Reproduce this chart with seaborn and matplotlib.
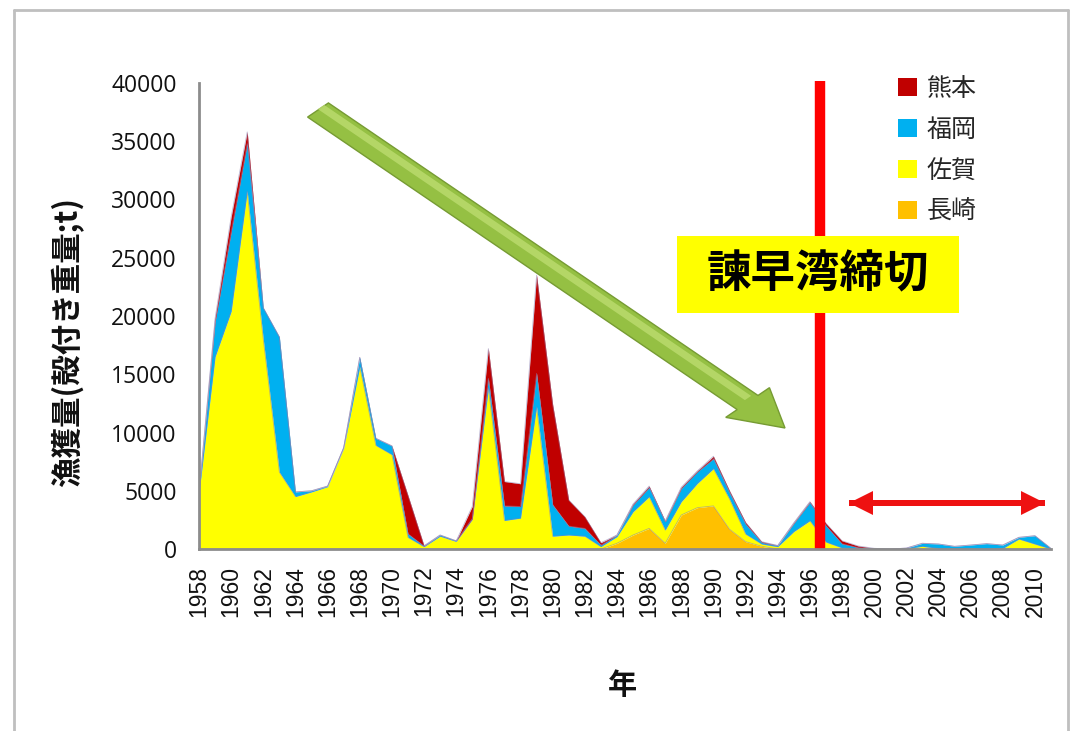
import numpy as np
import pandas as pd
import matplotlib
matplotlib.use("Agg")
import matplotlib.pyplot as plt
from matplotlib.patches import Patch, Rectangle, FancyArrow
from matplotlib.lines import Line2D
import seaborn as sns

# ---- data: annual catch by prefecture (t, shell-on weight) ----
years = list(range(1958, 2012))

nagasaki = [0, 0, 0, 0, 0, 0, 0, 0, 0, 0,
            0, 0, 0, 0, 0, 0, 0, 0, 0, 0,
            0, 0, 0, 0, 0, 0, 490, 1200, 1770, 490,
            2920, 3550, 3700, 1700, 630, 230, 0, 0, 0, 0,
            0, 0, 0, 0, 0, 0, 0, 0, 0, 0,
            0, 0, 0, 0]

saga = [4800, 16500, 20400, 30700, 18000, 6600, 4500, 4900, 5350, 8650,
        15650, 8900, 8100, 1000, 200, 1100, 650, 2550, 13800, 2450,
        2650, 12200, 1100, 1200, 1100, 200, 570, 2000, 2720, 1140,
        1140, 2080, 3200, 2600, 660, 200, 200, 1500, 2430, 600,
        100, 30, 0, 0, 30, 230, 50, 0, 0, 0,
        50, 860, 430, 0]

fukuoka = [100, 3000, 6800, 4100, 2700, 11600, 400, 100, 50, 50,
           800, 600, 750, 300, 50, 100, 50, 50, 850, 1250,
           1000, 2870, 2700, 770, 670, 140, 140, 580, 800, 710,
           1140, 1000, 860, 560, 860, 140, 90, 700, 1570, 1400,
           350, 100, 30, 0, 50, 260, 380, 230, 340, 460,
           290, 140, 710, 50]

kumamoto = [0, 300, 1300, 1000, 0, 0, 0, 0, 0, 0,
            0, 0, 0, 3300, 30, 0, 0, 1050, 2550, 2090,
            1950, 8430, 8600, 2230, 1000, 200, 0, 80, 110, 60,
            100, 70, 200, 140, 140, 60, 10, 50, 60, 200,
            250, 130, 30, 0, 0, 0, 0, 0, 0, 0,
            0, 0, 0, 0]

series_names = ["長崎", "佐賀", "福岡", "熊本"]
series_colors = ["#FFC000", "#FFFF00", "#00B0F0", "#C00000"]
legend_order = ["熊本", "福岡", "佐賀", "長崎"]

y_ticks = [0, 5000, 10000, 15000, 20000, 25000, 30000, 35000, 40000]
x_ticks = list(range(1958, 2011, 2))
closure_year = 1996.65

df = pd.DataFrame({"年": years, "長崎": nagasaki, "佐賀": saga,
                   "福岡": fukuoka, "熊本": kumamoto})

# ---- style ----
sns.set_theme(style="white")
plt.rcParams["font.family"] = ["Noto Sans CJK JP", "DejaVu Sans"]

W, H = 1075, 731
fig = plt.figure(figsize=(W / 100, H / 100), dpi=100)
fig.patch.set_facecolor("white")


def fx(px):
    return px / W


def fy(py):
    return 1 - py / H


ax = fig.add_axes([fx(199), fy(549), fx(1051) - fx(199), fy(83) - fy(549)])
ax.set_facecolor("white")

# stacked areas, bottom to top
base = np.zeros(len(years))
tops = []
for name, col in zip(series_names, series_colors):
    top = base + df[name].to_numpy()
    ax.fill_between(df["年"], base, top, color=col, linewidth=0, zorder=2)
    tops.append(top)
    base = top

# thin outline along each band's upper edge
outline = pd.DataFrame({"年": years * len(series_names),
                        "top": np.concatenate(tops),
                        "series": np.repeat(series_names, len(years))})
sns.lineplot(data=outline, x="年", y="top", units="series", estimator=None,
             color="#8a7fb0", linewidth=0.6, alpha=0.55, ax=ax, zorder=3,
             legend=False)

ax.set_xlim(1958, 2011)
ax.set_ylim(0, 40000)
ax.set_yticks(y_ticks)
ax.set_yticklabels([str(v) for v in y_ticks], fontfamily="Open Sans",
                   fontsize=16.5, color="#111111")
ax.set_xticks(x_ticks)
ax.set_xticklabels([str(v) for v in x_ticks], rotation=90,
                   fontfamily="Liberation Sans", fontsize=16.5, color="#111111")
ax.tick_params(axis="y", length=0, pad=16)
ax.tick_params(axis="x", length=0, pad=12)
ax.set_xlabel("")
ax.set_ylabel("")
for s in ["top", "right"]:
    ax.spines[s].set_visible(False)
for s in ["left", "bottom"]:
    ax.spines[s].set_color("#8c8c8c")
    ax.spines[s].set_linewidth(2)
    ax.spines[s].set_zorder(6)

# dike closure line
ax.axvline(closure_year, ymin=0, ymax=40200 / 40000, color="#FF0000",
           linewidth=7.5, zorder=5, clip_on=False, solid_capstyle="butt")

# axis titles
fig.text(fx(68), fy(342), "漁獲量(殻付き重量;t)", rotation=90, ha="center",
         va="center", fontsize=22, fontweight="bold", color="#111111")
fig.text(fx(622), fy(685), "年", ha="center", va="center", fontsize=21,
         fontweight="bold", color="#111111")

# legend
handles = [Patch(facecolor=series_colors[series_names.index(n)], edgecolor="none")
           for n in legend_order]
fig.legend(handles, legend_order, loc="upper left",
           bbox_to_anchor=(fx(888), fy(66)), frameon=False, fontsize=18,
           handlelength=0.75, handleheight=0.75, handletextpad=0.4,
           labelspacing=0.6, borderaxespad=0)

# closure label box
fig.patches.append(Rectangle((fx(677), fy(313)), fx(959) - fx(677),
                             fy(236) - fy(313), transform=fig.transFigure,
                             facecolor="#FFFF00", edgecolor="none", zorder=10))
fig.text(fx(818), fy(274), "諫早湾締切", ha="center", va="center",
         fontsize=32, fontweight="bold", color="black", zorder=11)

# declining-trend arrow (body plus a lighter highlight stripe)
x0, y0, x1, y1 = 318, 110, 785, 428
fig.patches.append(FancyArrow(fx(x0), fy(y0), fx(x1 - x0), -(y1 - y0) / H,
                              width=20 / H, head_width=42 / H, head_length=36 / H,
                              length_includes_head=True, transform=fig.transFigure,
                              facecolor="#95c043", edgecolor="#769b33",
                              linewidth=1, zorder=8))
fig.patches.append(FancyArrow(fx(x0 + 3), fy(y0 - 3), fx(x1 - x0 - 40),
                              -(y1 - y0 - 27) / H, width=6 / H, head_width=0,
                              head_length=0, length_includes_head=True,
                              transform=fig.transFigure, facecolor="#bcdc70",
                              edgecolor="none", alpha=0.8, zorder=9))

# post-closure period double arrow
for xa, xb in [(849, 1045), (1045, 849)]:
    fig.patches.append(FancyArrow(fx(xa), fy(503), fx(xb) - fx(xa), 0,
                                  width=6 / H, head_width=24 / H,
                                  head_length=fx(24), length_includes_head=True,
                                  transform=fig.transFigure,
                                  facecolor="#EE1111", edgecolor="none", zorder=8))

# outer frame
frame_kw = dict(color="#bfbfbf", linewidth=2, transform=fig.transFigure)
fig.lines.append(Line2D([fx(14), fx(14)], [fy(10), 0], **frame_kw))
fig.lines.append(Line2D([fx(14), fx(1068)], [fy(10), fy(10)], **frame_kw))
fig.lines.append(Line2D([fx(1068), fx(1068)], [fy(10), 0], **frame_kw))

fig.savefig("out.png", dpi=100, facecolor="white")
